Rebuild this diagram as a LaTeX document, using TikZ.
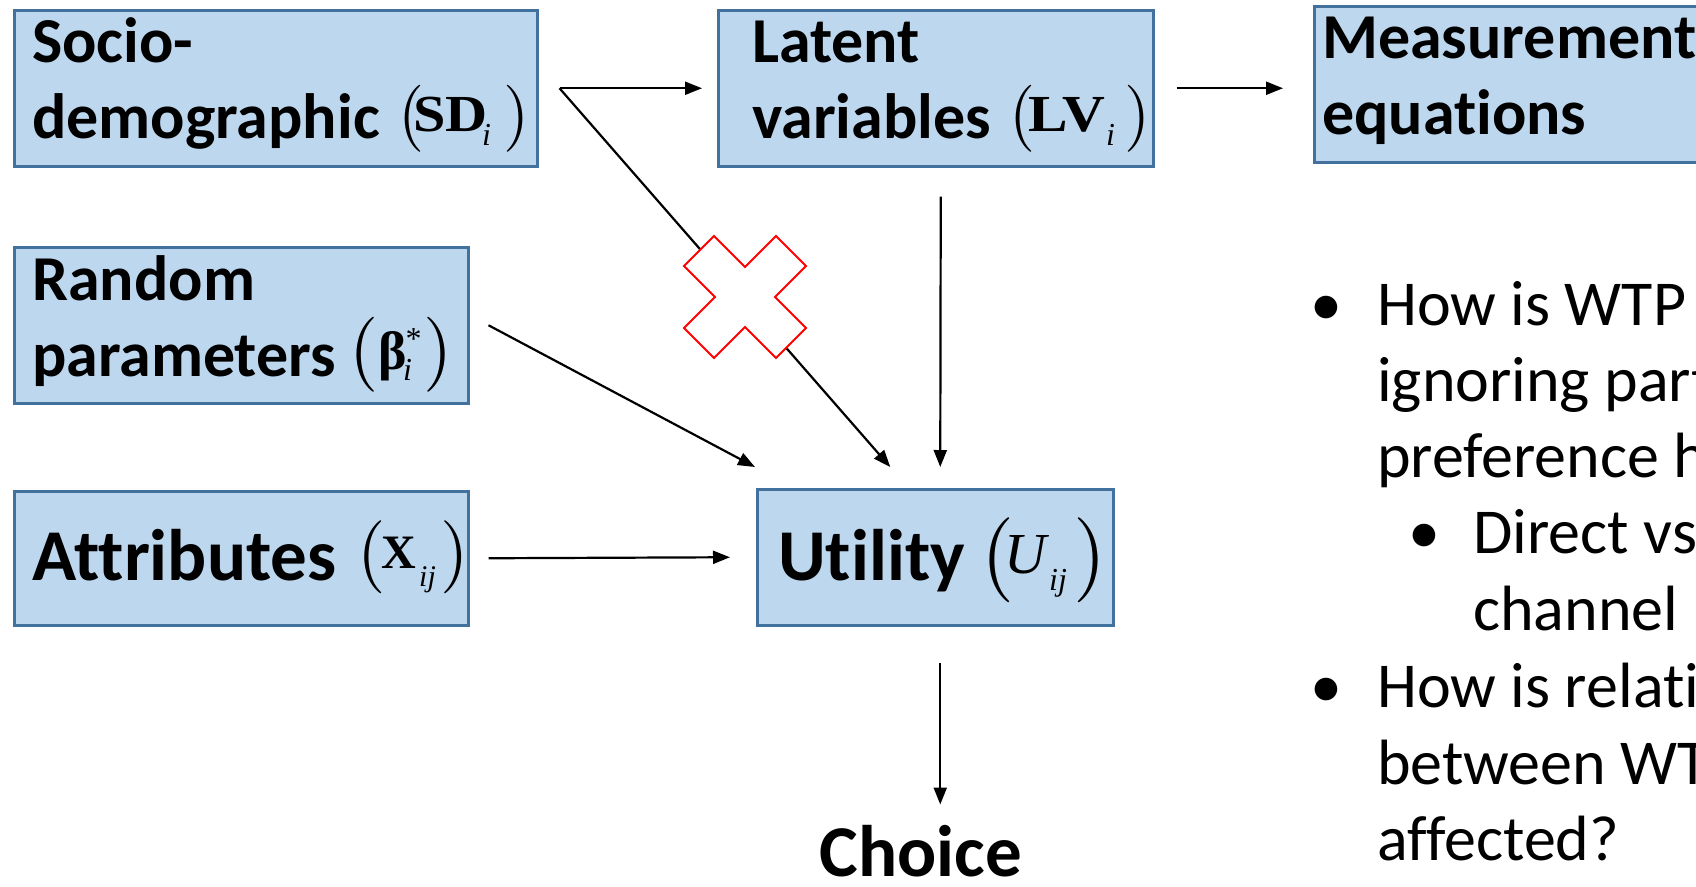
\documentclass[tikz,border=0pt]{standalone}
\usepackage{graphicx}
\usepackage{fontspec}
\setmainfont{Carlito}[Ligatures=CommonOff]
\newfontfamily\tms{Liberation Serif}
\newfontfamily\lmr{lmroman10-regular}[Extension=.otf]
\usetikzlibrary{arrows.meta}
\definecolor{boxfill}{HTML}{BDD7EE}
\definecolor{boxline}{HTML}{41719C}
\tikzset{
 box/.style={draw=boxline, fill=boxfill, line width=2.5pt, inner sep=0pt, anchor=north west},
 lbl/.style={inner sep=0pt, anchor=base west, font=\fontsize{64}{64}\selectfont\bfseries},
 big/.style={inner sep=0pt, anchor=base west, font=\fontsize{73}{73}\selectfont\bfseries},
 blt/.style={inner sep=0pt, anchor=base west, font=\fontsize{64}{64}\selectfont},
 dot/.style={inner sep=0pt, anchor=base, font=\fontsize{64}{64}\selectfont},
 par/.style={inner sep=0pt, anchor=base west, font=\lmr\fontsize{#1}{#1}\selectfont},
 mbf/.style={inner sep=0pt, anchor=base west, font=\tms\bfseries\fontsize{#1}{#1}\selectfont},
 mit/.style={inner sep=0pt, anchor=base west, font=\tms\itshape\fontsize{#1}{#1}\selectfont},
 arr/.style={line width=2.2pt, -{Triangle[length=17pt,width=13pt]}},
 xmark/.style={draw=red, fill=white, line width=2pt, line join=miter},
}
\begin{document}
\begin{tikzpicture}[x=1pt,y=-1pt]
\useasboundingbox (0,0) rectangle (1696,886);
\clip (0,0) rectangle (1696,886);
% boxes
\node[box, minimum width=523pt, minimum height=156pt] (sd) at (13,9) {};
\node[box, minimum width=435pt, minimum height=156pt] (lv) at (717,9) {};
\node[box, minimum width=447pt, minimum height=156pt] (me) at (1313,5) {};
\node[box, minimum width=454pt, minimum height=156pt] (rp) at (13,246) {};
\node[box, minimum width=454pt, minimum height=134pt] (at) at (13,490) {};
\node[box, minimum width=356pt, minimum height=136pt] (ut) at (756,488) {};
% box texts
\node[lbl] (sd1) at (32,62) {Socio-};
\node[lbl] (sd2) at (32,138) {demographic};
\node[par=67] (sdp1) at (398,135) {(};
\node[mbf=52] (sdv) at (413,131) {\scalebox{1.12}[1]{SD}};
\node[mit=32] (sdi) at (482,145) {i};
\node[par=67] (sdp2) at (503,135) {)};
\node[lbl] (lv1) at (752,62) {Latent};
\node[lbl] (lv2) at (752,138) {variables};
\node[par=67] (lvp1) at (1009,135) {(};
\node[mbf=52] (lvv) at (1028,131) {\scalebox{1.14}[1]{LV}};
\node[mit=32] (lvi) at (1106,145) {i};
\node[par=67] (lvp2) at (1124,135) {)};
\node[lbl] (me1) at (1322,58) {Measurement};
\node[lbl] (me2) at (1322,134) {equations};
\node[lbl] (rp1) at (32,300) {Random};
\node[lbl] (rp2) at (32,376) {parameters};
\node[par=75] (rpp1) at (349,373) {(};
\node[mbf=54] (rpv) at (378,369) {β};
\node[mit=32] (rps) at (404,349) {*};
\node[mit=32] (rpi) at (403,380) {i};
\node[par=75] (rpp2) at (423,373) {)};
\node[big] (at1) at (32,580) {Attributes};
\node[par=73] (atp1) at (357,575) {(};
\node[mbf=48] (atv) at (381,568) {X};
\node[mit=30] (ati) at (419,586) {ij};
\node[par=73] (atp2) at (440,575) {)};
\node[big] (ut1) at (778,580) {Utility};
\node[par=85] (utp1) at (981,581) {(};
\node[mit=58] (utv) at (1004,573) {U};
\node[mit=32] (uti) at (1049,590) {ij};
\node[par=85] (utp2) at (1073,581) {)};
\node[big, anchor=base] (ch) at (921,876) {Choice};
% bullets
\node[dot] (b1) at (1326,325) {•};
\node[blt] (t1) at (1377,325) {How is WTP};
\node[blt] (t2) at (1377,401) {ignoring part};
\node[blt] (t3) at (1377,477) {preference h};
\node[dot] (b2) at (1424,553) {•};
\node[blt] (t4) at (1473,553) {Direct vs};
\node[blt] (t5) at (1473,630) {channel};
\node[dot] (b3) at (1326,707) {•};
\node[blt] (t6) at (1377,707) {How is relati};
\node[blt] (t7) at (1377,784) {between WT};
\node[blt] (t8) at (1377,860) {affected?};
% connectors
\draw[arr] ([xshift=21pt]sd.east) -- ([xshift=-15pt]lv.west);
\draw[arr] ([xshift=22pt]lv.east) -- ([xshift=-30pt]me.west |- lv.east);
\draw[arr] ([xshift=21pt]sd.east) -- ([xshift=-45pt,yshift=21pt]ut.north);
\draw[arr] ([xshift=5pt,yshift=-29pt]lv.south) -- ([xshift=5pt,yshift=21pt]ut.north);
\draw[arr] ([xshift=19pt]rp.east) -- ([xshift=-1pt,yshift=21pt]ut.north west);
\draw[arr] ([xshift=19pt]at.east) -- ([xshift=-26pt]ut.west);
\draw[arr] ([xshift=5pt,yshift=-36pt]ut.south) -- ([xshift=5pt,yshift=-178pt]ut.south);
% cross
\draw[xmark, shift={(745,297)}] (-31,-61) -- (0,-30) -- (31,-61) -- (61,-31) -- (30,0) -- (61,31) -- (31,61) -- (0,30) -- (-31,61) -- (-61,31) -- (-30,0) -- (-61,-31) -- cycle;
\end{tikzpicture}
\end{document}
